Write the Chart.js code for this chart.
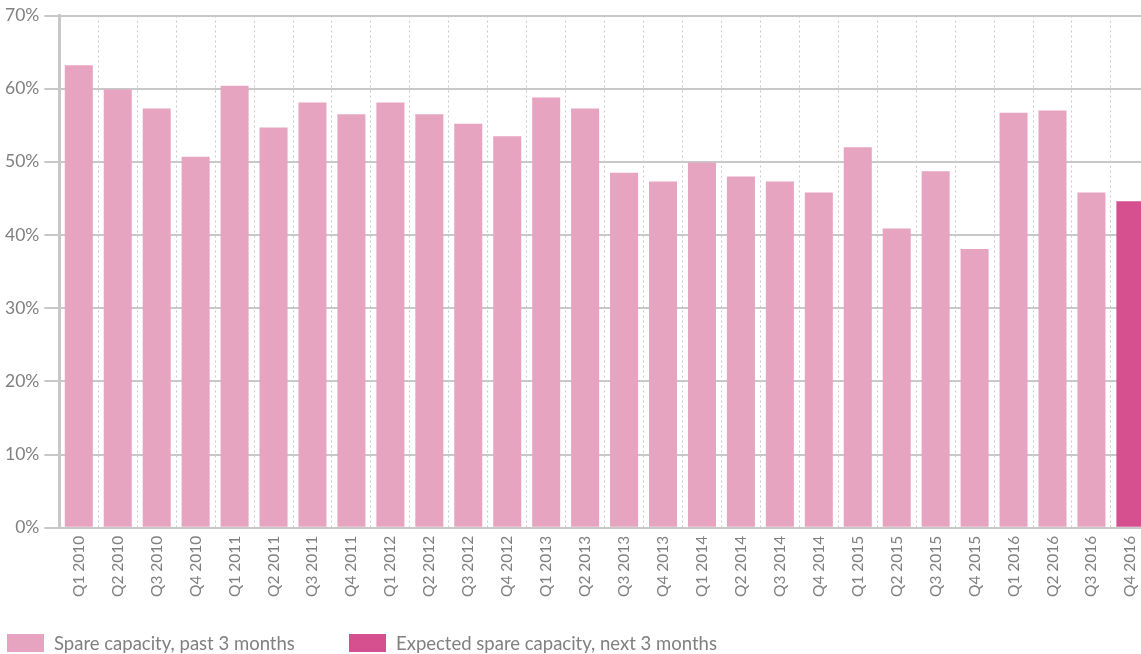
<!DOCTYPE html>
<html>
<head>
<meta charset="utf-8">
<script src="https://cdn.jsdelivr.net/npm/chart.js@4/dist/chart.umd.min.js"></script>
<style>
  html, body { margin: 0; padding: 0; background: #fff; overflow: hidden; }
  #wrap { position: relative; width: 1141px; height: 654px; overflow: hidden; }
  /* plot runs a little past the right edge, as in the original */
  #inner { position: absolute; left: 0; top: 0; width: 1157px; height: 654px; }
  #legend { position: absolute; left: 7px; top: 632px; font-family: Lato, sans-serif; font-size: 18.5px; color: #808080; white-space: nowrap; }
  #legend span.item { position: absolute; top: 0; display: flex; align-items: center; }
  #legend span.box { display: inline-block; width: 37px; height: 18px; margin-right: 10px; }
</style>
</head>
<body>
<div id="wrap">
  <div id="inner"><canvas id="chart"></canvas></div>
  <div id="legend"></div>
</div>
<script>
const labels = ['Q1 2010', 'Q2 2010', 'Q3 2010', 'Q4 2010', 'Q1 2011', 'Q2 2011', 'Q3 2011', 'Q4 2011',
    'Q1 2012', 'Q2 2012', 'Q3 2012', 'Q4 2012', 'Q1 2013', 'Q2 2013', 'Q3 2013', 'Q4 2013',
    'Q1 2014', 'Q2 2014', 'Q3 2014', 'Q4 2014', 'Q1 2015', 'Q2 2015', 'Q3 2015', 'Q4 2015',
    'Q1 2016', 'Q2 2016', 'Q3 2016', 'Q4 2016'];
const pastValues = [63.2, 59.9, 57.3, 50.7, 60.4, 54.7, 58.1, 56.5,
    58.1, 56.5, 55.2, 53.5, 58.8, 57.3, 48.5, 47.3,
    49.9, 48.0, 47.3, 45.8, 52.0, 40.9, 48.7, 38.1,
    56.7, 57.0, 45.8, null];
const expectedValues = [null, null, null, null, null, null, null, null,
    null, null, null, null, null, null, null, null,
    null, null, null, null, null, null, null, null,
    null, null, null, 44.6];
const seriesNames = ['Spare capacity, past 3 months', 'Expected spare capacity, next 3 months'];
const seriesColors = ['#e7a4c0', '#d64f8f'];

const textColor = '#808080';
const lineColor = '#c8c8c8';

const chart = new Chart(document.getElementById('chart').getContext('2d'), {
    type: 'bar',
    data: {
        labels: labels,
        datasets: [{
            label: seriesNames[0],
            data: pastValues,
            backgroundColor: seriesColors[0],
            barPercentage: 0.72,
            categoryPercentage: 1
        }, {
            label: seriesNames[1],
            data: expectedValues,
            backgroundColor: seriesColors[1],
            barPercentage: 0.72,
            categoryPercentage: 1
        }]
    },
    options: {
        responsive: true,
        maintainAspectRatio: false,
        animation: false,
        layout: { padding: { top: 1, right: 0, left: 0, bottom: 49 } },
        plugins: {
            tooltip: { enabled: false },
            legend: { display: false }
        },
        scales: {
            x: {
                stacked: true,
                grid: {
                    offset: true,
                    color: lineColor,
                    lineWidth: 1,
                    drawTicks: false
                },
                border: { display: false, dash: [2, 3] },
                ticks: {
                    color: textColor,
                    font: { family: 'Lato', size: 15.5 },
                    minRotation: 90,
                    maxRotation: 90,
                    padding: 8,
                    autoSkip: false
                }
            },
            y: {
                stacked: true,
                min: 0,
                max: 70,
                grid: {
                    color: lineColor,
                    lineWidth: 2,
                    tickLength: 15
                },
                border: { color: lineColor, width: 3 },
                ticks: {
                    stepSize: 10,
                    color: textColor,
                    padding: 5,
                    font: { family: 'Lato', size: 17.5 },
                    callback: v => v + '%'
                }
            }
        }
    }
});

// legend below the plot, built from the chart's datasets
const legendEl = document.getElementById('legend');
const legendX = [0, 342];
chart.data.datasets.forEach((ds, i) => {
    const item = document.createElement('span');
    item.className = 'item';
    item.style.left = legendX[i] + 'px';
    const box = document.createElement('span');
    box.className = 'box';
    box.style.background = ds.backgroundColor;
    item.appendChild(box);
    item.appendChild(document.createTextNode(ds.label));
    legendEl.appendChild(item);
});
</script>
</body>
</html>
